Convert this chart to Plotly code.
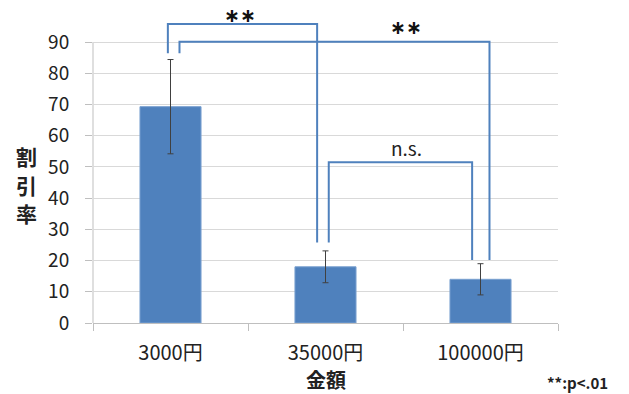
import plotly.graph_objects as go

# ---- data ----
categories = ["3000円", "35000円", "100000円"]
discount_rate = [69.3, 18.0, 14.0]
error_sd = [15.1, 5.1, 5.0]
y_tick_values = [0, 10, 20, 30, 40, 50, 60, 70, 80, 90]

# significance comparisons (category index pairs) and labels
comparisons = [(0, 1), (0, 2), (1, 2)]
sig_labels = ["∗∗", "∗∗", "n.s."]

# ---- bracket geometry (annotation layout) ----
Y_MAX = 96.1
bracket_tops = [95.8, 90.1, 51.5]
bracket_left_bottom = [86.4, 86.4, 25.8]
bracket_right_bottom = [25.8, 20.2, 20.2]
bracket_left_dx = [-0.017, 0.058, 0.021]
bracket_right_dx = [-0.054, 0.058, -0.054]
label_pos = [(0.45, 98.6), (1.52, 94.8), (1.52, 56.2)]

BLUE = "#4F81BD"
TXT = "#222222"
FONT = "Noto Sans CJK JP"

fig = go.Figure()
fig.add_trace(go.Bar(
    x=categories, y=discount_rate,
    marker=dict(color=BLUE, line=dict(color="#7AA0D0", width=1)),
    error_y=dict(type="data", array=error_sd, color="#404040", thickness=1, width=3),
    showlegend=False,
))

shapes = []
for i, (a, b) in enumerate(comparisons):
    x1 = a + bracket_left_dx[i]
    x2 = b + bracket_right_dx[i]
    path = (f"M {x1},{bracket_left_bottom[i]} L {x1},{bracket_tops[i]} "
            f"L {x2},{bracket_tops[i]} L {x2},{bracket_right_bottom[i]}")
    shapes.append(dict(type="path", path=path, xref="x", yref="y",
                       line=dict(color=BLUE, width=2)))
# y axis line from 0 to 90
shapes.append(dict(type="line", xref="paper", yref="y", x0=0, x1=0, y0=0, y1=90,
                   line=dict(color="#BFBFBF", width=1), layer="below"))

annotations = []
for (lx, ly), lab in zip(label_pos, sig_labels):
    star = lab.startswith("∗")
    annotations.append(dict(x=(lx + 0.5) / 3, y=ly / Y_MAX, xref="paper", yref="paper",
                            text=lab, showarrow=False, xanchor="center", yanchor="middle",
                            borderpad=0,
                            font=dict(family="DejaVu Sans" if star else FONT,
                                      size=19 if star else 19, color="#111111" if star else TXT,
                                      weight=700 if star else 400)))
# vertical y-axis title, stacked characters
for ch, py in zip("割引率", [156, 184.5, 213]):
    annotations.append(dict(x=0, y=1, xref="paper", yref="paper", text=ch, showarrow=False,
                            xanchor="center", yanchor="middle", borderpad=0,
                            xshift=26 - 93, yshift=-(py - 23),
                            font=dict(family=FONT, size=21, color=TXT, weight=700)))
annotations.append(dict(x=0.5, y=0, xref="paper", yref="paper", text="金額",
                        showarrow=False, xanchor="center", yanchor="middle", yshift=-56,
                        borderpad=0,
                        font=dict(family=FONT, size=20, color=TXT, weight=700)))
annotations.append(dict(x=1.043, y=0, xref="paper", yref="paper", text="**:p<.01",
                        showarrow=False, xanchor="center", yanchor="middle", yshift=-59,
                        borderpad=0,
                        font=dict(family=FONT, size=15, color=TXT, weight=700)))

fig.update_layout(
    width=629, height=394,
    margin=dict(l=93, r=71, t=23, b=71, pad=0),
    plot_bgcolor="white", paper_bgcolor="white",
    bargap=0.606,
    shapes=shapes,
    annotations=annotations,
    font=dict(family=FONT, color=TXT),
    xaxis=dict(
        type="category", tickson="boundaries", ticks="outside", ticklen=7,
        tickcolor="#BFBFBF", showline=True, linecolor="#BFBFBF", linewidth=1,
        showgrid=False, tickfont=dict(family=FONT, size=20, color=TXT),
        ticklabelstandoff=12, range=[-0.5, 2.5],
    ),
    yaxis=dict(
        range=[0, Y_MAX], tickvals=y_tick_values, ticks="outside", ticklen=7,
        tickcolor="#BFBFBF", showline=False, showgrid=True, gridcolor="#D9D9D9",
        gridwidth=1, zeroline=False, tickfont=dict(family=FONT, size=19, color=TXT),
        ticklabelstandoff=12,
    ),
)

fig.write_html("out.html", config={"displayModeBar": False},
               post_script="document.body.style.margin='0';")
